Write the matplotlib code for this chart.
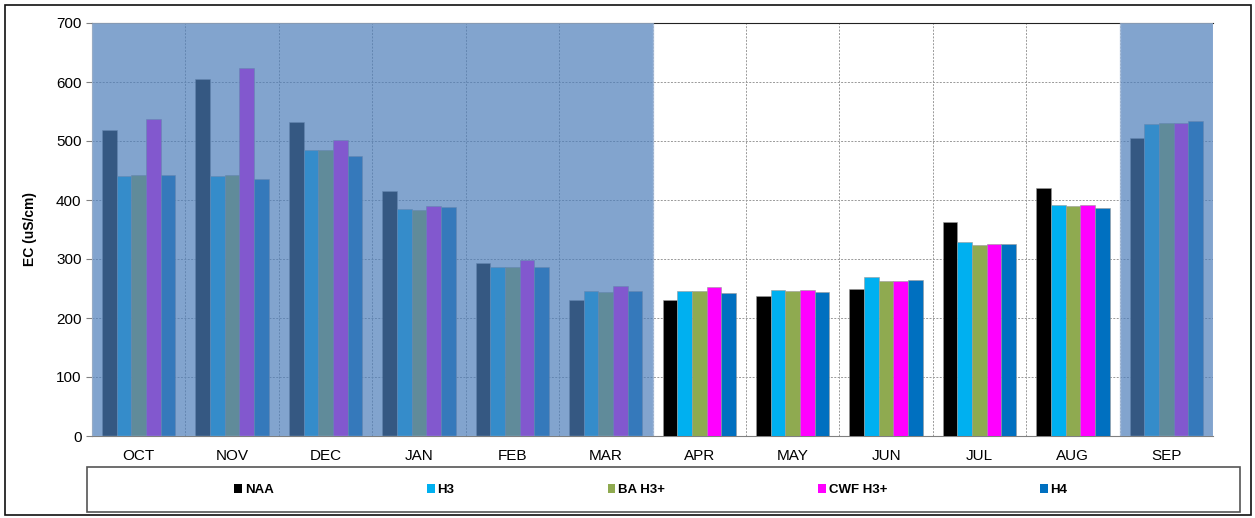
import matplotlib
matplotlib.use("Agg")
import matplotlib.pyplot as plt
import numpy as np
from matplotlib.patches import Rectangle, Patch

plt.rcParams['font.family'] = ['Liberation Sans', 'DejaVu Sans']

months = ['OCT', 'NOV', 'DEC', 'JAN', 'FEB', 'MAR', 'APR', 'MAY', 'JUN', 'JUL', 'AUG', 'SEP']
series_names = ['NAA', 'H3', 'BA H3+', 'CWF H3+', 'H4']
naa = [518, 605, 533, 416, 293, 231, 231, 237, 249, 362, 421, 505]
h3 = [441, 441, 484, 385, 286, 246, 246, 248, 269, 328, 391, 528]
ba_h3p = [443, 443, 484, 383, 286, 244, 246, 246, 263, 324, 390, 530]
cwf_h3p = [537, 624, 501, 390, 298, 255, 253, 248, 263, 325, 391, 531]
h4 = [442, 435, 474, 388, 287, 246, 243, 244, 265, 325, 387, 534]
colors = ['#000000', '#00b0f0', '#8faa50', '#ff00ff', '#0070c0']

# shaded periods, as (first month index, last month index)
shaded = [(0, 5), (11, 11)]

W, H = 1255, 518
fig = plt.figure(figsize=(W / 100, H / 100), dpi=100)
ax = fig.add_axes([92 / W, 1 - 436 / H, (1213 - 92) / W, (436 - 23) / H])

x = np.arange(len(months))
bw = 0.157
allSeries = [naa, h3, ba_h3p, cwf_h3p, h4]
for i, (vals, c) in enumerate(zip(allSeries, colors)):
    ax.bar(x + (i - 2) * bw, vals, width=bw, color=c, edgecolor='#9a9a9a',
           linewidth=0.4, zorder=3, label=series_names[i])

ax.set_xlim(-0.5, len(months) - 0.5)
ax.set_ylim(0, 700)
ax.set_yticks(range(0, 701, 100))
ax.set_xticks(x)
ax.set_xticklabels(months, fontsize=11)
ax.set_xticks(np.arange(-0.5, len(months), 1), minor=True)
ax.tick_params(axis='x', which='major', length=0, pad=9)
ax.tick_params(axis='x', which='minor', length=0)
ax.tick_params(axis='y', labelsize=11, length=4, color='#808080')
ax.grid(which='minor', axis='x', linestyle=(0, (2, 1.5)), color='#999999', linewidth=0.7, zorder=0)
ax.grid(which='major', axis='y', linestyle=(0, (2, 1.5)), color='#999999', linewidth=0.7, zorder=0)
ax.grid(which='major', axis='x', visible=False)
ax.set_ylabel('EC (uS/cm)', fontsize=10, fontweight='bold', labelpad=14)

for s in ['left', 'bottom']:
    ax.spines[s].set_color('#808080')
ax.spines['top'].set_color('#222222')
ax.spines['top'].set_linewidth(0.8)
ax.spines['right'].set_visible(False)

for a, b in shaded:
    ax.add_patch(Rectangle((a - 0.5, 0), b - a + 1, 700, facecolor='#4d7eba', alpha=0.7,
                           edgecolor='#a9c0de', linewidth=1.0, zorder=5))

# legend box
fig.add_artist(Rectangle((87 / W, 1 - 512 / H), (1240 - 87) / W, (512 - 467) / H,
                         transform=fig.transFigure, fill=False, edgecolor='#555555', linewidth=1.2))
handles = [Patch(facecolor=c, edgecolor='none') for c in colors]
fig.legend(handles, series_names, loc='center', bbox_to_anchor=(651 / W, 1 - 490 / H),
           ncol=5, frameon=False, prop={'weight': 'bold', 'size': 9.5},
           handlelength=0.6, handleheight=0.6, handletextpad=0.2, columnspacing=11.6)

# outer border
fig.add_artist(Rectangle((5 / W, 1 - 515 / H), (1251 - 5) / W, (515 - 5) / H,
                         transform=fig.transFigure, fill=False, edgecolor='#111111', linewidth=1.2))

fig.savefig('out.png', dpi=100)
